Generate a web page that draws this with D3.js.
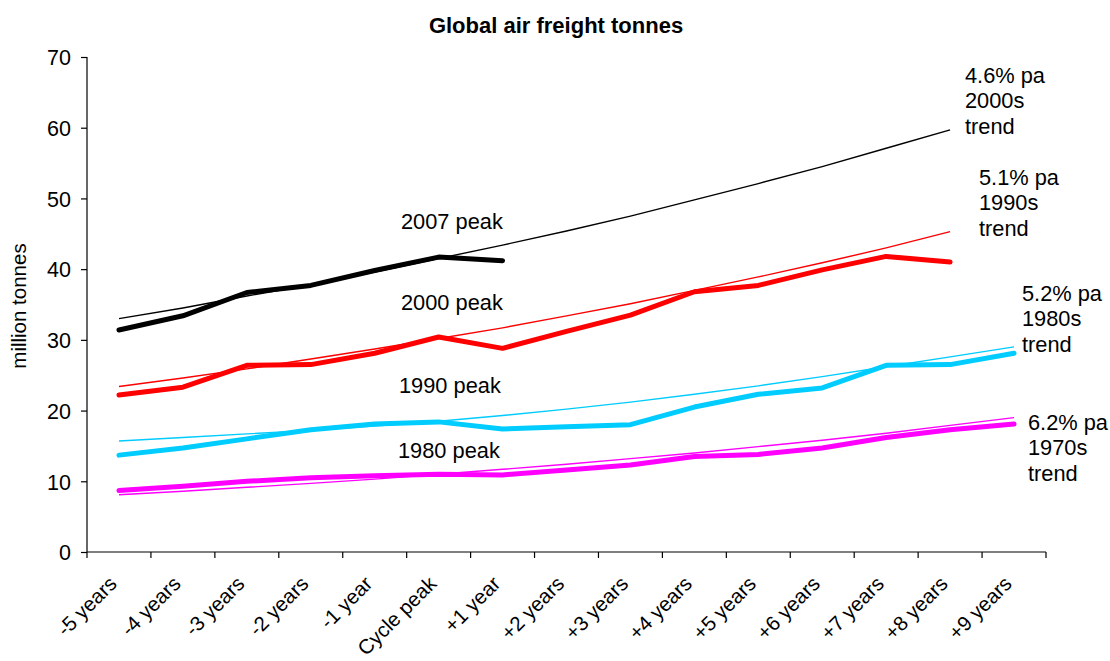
<!DOCTYPE html>
<html>
<head>
<meta charset="utf-8">
<script src="https://cdn.jsdelivr.net/npm/d3@7/dist/d3.min.js"></script>
<style>
  html, body { margin: 0; padding: 0; background: #fff; }
  svg { display: block; font-family: "Liberation Sans", Arial, sans-serif; }
</style>
</head>
<body>
<svg id="chart" width="1110" height="661"></svg>
<script>
// Years relative to each cycle peak
const categories = ["-5 years", "-4 years", "-3 years", "-2 years", "-1 year", "Cycle peak",
  "+1 year", "+2 years", "+3 years", "+4 years", "+5 years", "+6 years", "+7 years", "+8 years", "+9 years"];

// Actual tonnage around each peak (million tonnes)
const peak2007 = [31.4, 33.4, 36.7, 37.7, 39.8, 41.7, 41.2];
const peak2000 = [22.2, 23.3, 26.4, 26.5, 28.1, 30.4, 28.8, 31.2, 33.5, 36.8, 37.7, 39.9, 41.8, 41.0];
const peak1990 = [13.7, 14.7, 16.0, 17.3, 18.1, 18.4, 17.4, 17.7, 18.0, 20.5, 22.3, 23.2, 26.4, 26.5, 28.1];
const peak1980 = [8.7, 9.3, 10.0, 10.5, 10.8, 11.0, 10.9, 11.6, 12.3, 13.5, 13.8, 14.7, 16.2, 17.3, 18.1];

// Decade trend lines (million tonnes)
const trend2000s = [33.0, 34.5, 36.2, 37.8, 39.6, 41.5, 43.4, 45.4, 47.5, 49.8, 52.1, 54.5, 57.1, 59.7];
const trend1990s = [23.4, 24.6, 25.9, 27.3, 28.7, 30.2, 31.7, 33.4, 35.1, 37.0, 38.9, 40.9, 43.0, 45.3];
const trend1980s = [15.7, 16.2, 16.7, 17.2, 17.8, 18.5, 19.3, 20.2, 21.2, 22.3, 23.5, 24.8, 26.2, 27.6, 29.0];
const trend1970s = [8.1, 8.6, 9.15, 9.7, 10.3, 11.0, 11.7, 12.4, 13.2, 14.0, 14.9, 15.8, 16.8, 17.9, 19.0];

const yTicks = [0, 10, 20, 30, 40, 50, 60, 70];

const title = "Global air freight tonnes";
const yTitle = "million tonnes";

const svg = d3.select("#chart");
const plot = { left: 87, right: 1046, top: 57, bottom: 552 };

const x = d3.scaleBand().domain(categories).range([plot.left, plot.right]).padding(0);
const y = d3.scaleLinear().domain([0, 70]).range([plot.bottom, plot.top]);
const cx = c => x(c) + x.bandwidth() / 2;

// Title
svg.append("text")
  .attr("x", 556).attr("y", 33)
  .attr("text-anchor", "middle")
  .attr("font-size", 22).attr("font-weight", "bold")
  .text(title);

// Y axis
const yAxis = svg.append("g")
  .attr("transform", `translate(${plot.left},0)`)
  .call(d3.axisLeft(y).tickValues(yTicks).tickSize(6).tickPadding(10).tickFormat(d3.format("d")));
yAxis.select(".domain").attr("stroke", "#000").attr("stroke-width", 1.2)
  .attr("d", `M0,${plot.top}V${plot.bottom}`);
yAxis.selectAll(".tick line").attr("stroke", "#000").attr("stroke-width", 1.2);
yAxis.selectAll(".tick text").attr("font-size", 21.5).attr("font-family", "Liberation Sans, Arial, sans-serif")
  .attr("fill", "#000").attr("dy", "0.36em");

svg.append("text")
  .attr("transform", `translate(26,306) rotate(-90)`)
  .attr("text-anchor", "middle")
  .attr("font-size", 20.5)
  .text(yTitle);

// X axis: line with ticks on category boundaries
const xAxis = svg.append("g");
xAxis.append("line")
  .attr("x1", plot.left).attr("x2", plot.right)
  .attr("y1", plot.bottom).attr("y2", plot.bottom)
  .attr("stroke", "#000").attr("stroke-width", 1.2);
const bounds = categories.map(c => x(c)).concat([x.range()[1]]);
xAxis.selectAll("line.tick").data(bounds).join("line")
  .attr("class", "tick")
  .attr("x1", d => d).attr("x2", d => d)
  .attr("y1", plot.bottom).attr("y2", plot.bottom + 6)
  .attr("stroke", "#000").attr("stroke-width", 1.2);
xAxis.selectAll("text").data(categories).join("text")
  .attr("transform", d => `translate(${cx(d) - 1},${plot.bottom + 33}) rotate(-45)`)
  .attr("text-anchor", "end")
  .attr("font-size", 20.5)
  .text(d => d);

// Lines
const line = d3.line().x((d, i) => cx(categories[i])).y(d => y(d));

const trends = [
  { data: trend2000s, color: "#000000" },
  { data: trend1990s, color: "#ff0000" },
  { data: trend1980s, color: "#00ccff" },
  { data: trend1970s, color: "#ff00ff" }
];
const series = [
  { data: peak2007, color: "#000000" },
  { data: peak2000, color: "#ff0000" },
  { data: peak1990, color: "#00ccff" },
  { data: peak1980, color: "#ff00ff" }
];

svg.append("g").selectAll("path").data(trends).join("path")
  .attr("d", d => line(d.data))
  .attr("fill", "none").attr("stroke", d => d.color).attr("stroke-width", 1.4);

svg.append("g").selectAll("path").data(series).join("path")
  .attr("d", d => line(d.data))
  .attr("fill", "none").attr("stroke", d => d.color).attr("stroke-width", 5)
  .attr("stroke-linejoin", "round").attr("stroke-linecap", "round");

// Annotations
const notes = [
  { x: 401, y: 221, lines: ["2007 peak"] },
  { x: 401, y: 302, lines: ["2000 peak"] },
  { x: 399, y: 385, lines: ["1990 peak"] },
  { x: 398, y: 450, lines: ["1980 peak"] },
  { x: 965, y: 75, lines: ["4.6% pa", "2000s", "trend"] },
  { x: 979, y: 177, lines: ["5.1% pa", "1990s", "trend"] },
  { x: 1022, y: 293, lines: ["5.2% pa", "1980s", "trend"] },
  { x: 1028, y: 422, lines: ["6.2% pa", "1970s", "trend"] }
];
const ng = svg.append("g").attr("font-size", 21.8);
notes.forEach(n => {
  const t = ng.append("text").attr("x", n.x).attr("y", n.y).attr("dy", "0.36em");
  n.lines.forEach((s, i) => {
    t.append("tspan").attr("x", n.x).attr("dy", i === 0 ? "0.36em" : 25.6).text(s);
  });
});
</script>
</body>
</html>
